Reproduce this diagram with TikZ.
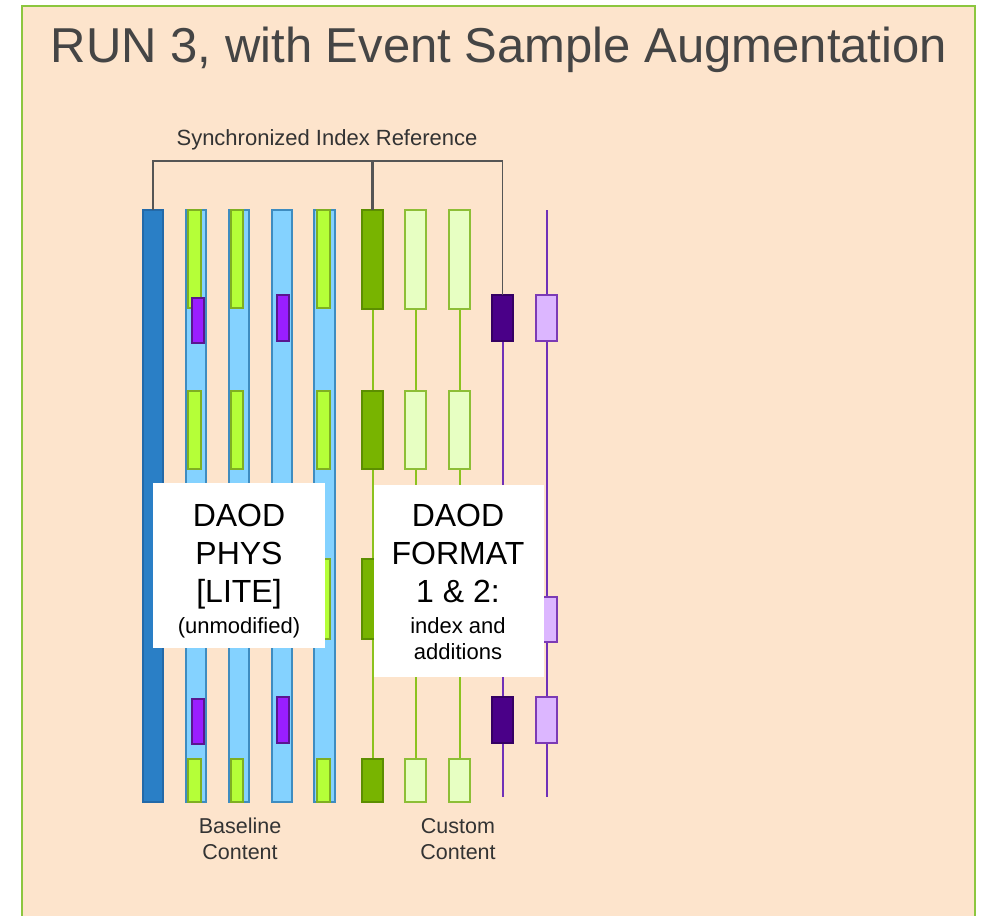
\documentclass[tikz,border=0pt]{standalone}
\usepackage{fontspec}
\setmainfont{Liberation Sans}
\definecolor{peach}{HTML}{FDE4CC}
\definecolor{framegreen}{HTML}{8CC63F}
\definecolor{blueDark}{HTML}{2A7FC6}
\definecolor{blueDarkLine}{HTML}{2369A8}
\definecolor{blueLight}{HTML}{84D2FF}
\definecolor{blueLightLine}{HTML}{3E8CC0}
\definecolor{lime}{HTML}{B5FF38}
\definecolor{limeLine}{HTML}{7FAF22}
\definecolor{violet}{HTML}{9A1EFF}
\definecolor{violetLine}{HTML}{5A1690}
\definecolor{greenDark}{HTML}{78B400}
\definecolor{greenDarkLine}{HTML}{5C8E00}
\definecolor{greenPale}{HTML}{E7FFC2}
\definecolor{greenPaleLine}{HTML}{8DBE36}
\definecolor{greenWire}{HTML}{8CC21E}
\definecolor{indigoBox}{HTML}{4A0088}
\definecolor{indigoLine}{HTML}{350063}
\definecolor{lilac}{HTML}{DCB6FF}
\definecolor{lilacLine}{HTML}{7C3AB5}
\definecolor{purpleWire}{HTML}{7030B8}
\definecolor{busGrey}{HTML}{555555}
\definecolor{titleGrey}{HTML}{454545}
\definecolor{labelGrey}{HTML}{333333}

\pgfdeclarelayer{panel}
\pgfdeclarelayer{wires}
\pgfsetlayers{panel,wires,main}

\tikzset{
  cellbase/.style={rectangle, inner sep=0pt, outer sep=0pt, line width=1.2pt},
  colDark/.style={cellbase, fill=blueDark, draw=blueDarkLine},
  colLight/.style={cellbase, fill=blueLight, draw=blueLightLine},
  limebar/.style={cellbase, fill=lime, draw=limeLine},
  violetbox/.style={cellbase, fill=violet, draw=violetLine},
  gdark/.style={cellbase, fill=greenDark, draw=greenDarkLine},
  gpale/.style={cellbase, fill=greenPale, draw=greenPaleLine},
  pdark/.style={cellbase, fill=indigoBox, draw=indigoLine},
  plight/.style={cellbase, fill=lilac, draw=lilacLine},
  gwire/.style={draw=greenWire, line width=2pt},
  pwire/.style={draw=purpleWire, line width=2pt},
  bus/.style={draw=busGrey, line width=2.6pt},
  whitebox/.style={rectangle, fill=white, inner sep=0pt},
  boxtext/.style={inner sep=0pt, align=center, text=black,
    font=\fontsize{32}{38}\selectfont},
  smalllabel/.style={inner sep=0pt, align=center, text=labelGrey,
    font=\fontsize{21.5}{26}\selectfont},
}

% cell{name}{x1}{y1}{x2}{y2}{style}: a box given by its corners
\newcommand\cell[6]{%
  \node[#6, minimum width={#4-#2}, minimum height={#5-#3}, anchor=north west]
    (#1) at (#2,#3) {};}

\begin{document}
\begin{tikzpicture}[x=1pt,y=-1pt]
\useasboundingbox (0,0) rectangle (984,915);
\begin{pgfonlayer}{panel}
\fill[white] (0,0) rectangle (984,915);
\fill[peach] (22,6) rectangle (975,930);
\draw[framegreen, line width=2.5pt] (22,930) -- (22,6) -- (975,6) -- (975,930);
\end{pgfonlayer}

% title
\node[anchor=base, inner sep=0pt, text=titleGrey,
      font=\fontsize{49}{55}\selectfont] (title) at (499,63)
  {RUN 3, with Event Sample Augmentation};

% baseline columns
\cell{blue}{143}{210}{163}{802}{colDark}
\cell{lbA}{186}{210}{206}{802}{colLight}
\cell{lbB}{229}{210}{249}{802}{colLight}
\cell{lbC}{272}{210}{292}{802}{colLight}
\cell{lbD}{314}{210}{335}{802}{colLight}

% lime bars in the baseline columns
\foreach \r/\ya/\yb in {1/210/308, 2/391/469, 3/559/639, 4/759/802}{
  \cell{limeA\r}{188}{\ya}{201}{\yb}{limebar}
  \cell{limeB\r}{231}{\ya}{243}{\yb}{limebar}
  \cell{limeD\r}{317}{\ya}{330}{\yb}{limebar}
}
% violet boxes in the baseline columns
\cell{vioA1}{192}{298}{204}{343}{violetbox}
\cell{vioC1}{277}{295}{289}{341}{violetbox}
\cell{vioA2}{192}{699}{204}{744}{violetbox}
\cell{vioC2}{277}{697}{289}{743}{violetbox}

% custom content: green boxes joined by wires
\foreach \r/\ya/\yb in {1/210/309, 2/391/469, 3/559/639, 4/759/802}{
  \cell{dg\r}{362}{\ya}{383}{\yb}{gdark}
  \cell{lgA\r}{405}{\ya}{426}{\yb}{gpale}
  \cell{lgB\r}{449}{\ya}{470}{\yb}{gpale}
}
\begin{pgfonlayer}{wires}
\foreach \a/\b in {1/2, 2/3, 3/4}{
  \draw[gwire] (dg\a.south) -- (dg\b.north);
  \draw[gwire] (lgA\a.south) -- (lgA\b.north);
  \draw[gwire] (lgB\a.south) -- (lgB\b.north);
}
\end{pgfonlayer}

% custom content: purple boxes joined by wires
\foreach \n/\ya/\yb in {1/295/341, 2/597/642, 3/697/743}{
  \cell{dp\n}{492}{\ya}{513}{\yb}{pdark}
  \cell{lp\n}{536}{\ya}{557}{\yb}{plight}
}
\coordinate (dpEnd) at (502.5,797);
\coordinate (lpTop) at (546.5,210);
\coordinate (lpEnd) at (546.5,797);
\begin{pgfonlayer}{wires}
\draw[pwire] (dp1.south) -- (dp2.north) (dp2.south) -- (dp3.north)
             (dp3.south) -- (dpEnd);
\draw[pwire] (lpTop) -- (lp1.north) (lp1.south) -- (lp2.north)
             (lp2.south) -- (lp3.north) (lp3.south) -- (lpEnd);
\end{pgfonlayer}

% synchronized index bus
\coordinate (busL) at (153,161);
\draw[bus] (blue.north) -- (busL) -| (dg1.north);
\draw[bus, line width=1.8pt] (busL) -| (dp1.north);
\node[anchor=base, inner sep=0pt, text=labelGrey,
      font=\fontsize{22}{26}\selectfont] (busLabel) at (327,145)
  {Synchronized Index Reference};

% white label panels
\cell{phys}{153}{483}{325}{648}{whitebox}
\cell{fmt}{374}{485}{544}{677}{whitebox}
\node[boxtext, anchor=north] (physText) at (239,503.5)
  {DAOD\\PHYS\\{[LITE]}\\[-6.5pt]{\fontsize{22}{26}\selectfont (unmodified)}};
\node[boxtext, anchor=north] (fmtText) at (458,503.5)
  {DAOD\\FORMAT\\1 \& 2:\\[-6.5pt]{\fontsize{22}{26}\selectfont index and}\\[-12pt]{\fontsize{22}{26}\selectfont additions}};

% group captions
\node[smalllabel] (baseCap) at (240,839) {Baseline\\Content};
\node[smalllabel] (custCap) at (458,839) {Custom\\Content};
\end{tikzpicture}
\end{document}
